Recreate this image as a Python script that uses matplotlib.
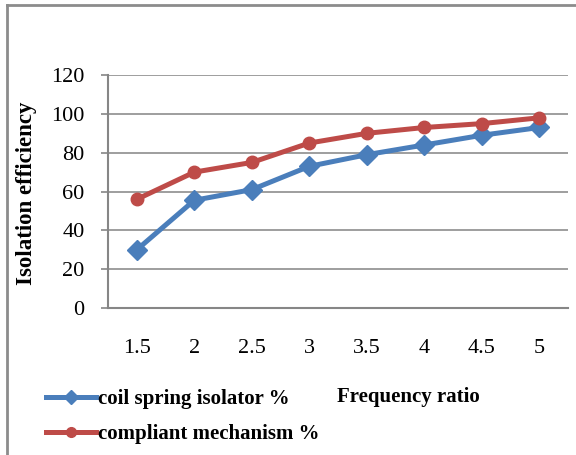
import matplotlib.pyplot as plt
from matplotlib.lines import Line2D

# data
freq_ratio = ['1.5', '2', '2.5', '3', '3.5', '4', '4.5', '5']
coil_spring = [30, 55.5, 61, 73, 79, 84, 89, 93]
compliant = [56, 70, 75, 85, 90, 93, 95, 98]

plt.rcParams['font.family'] = ['Liberation Serif', 'DejaVu Serif']

fig = plt.figure(figsize=(5.76, 4.55), dpi=100)
ax = fig.add_axes([0.1875, 0.323, 0.799, 0.512])

blue = '#4a7ebb'
red = '#be4b48'
x = range(len(freq_ratio))

ax.plot(x, coil_spring, color=blue, lw=3.6, marker='D', markersize=10.5,
        label='coil spring isolator %', zorder=3)
ax.plot(x, compliant, color=red, lw=3.6, marker='o', markersize=9,
        label='compliant mechanism %', zorder=4)

ax.set_xlim(-0.5, len(freq_ratio) - 0.5)
ax.set_ylim(0, 120)
ax.set_yticks(range(0, 121, 20))
ax.set_xticks(list(x))
ax.set_xticklabels(freq_ratio)
ax.tick_params(axis='y', labelsize=16, color='#868686', length=5, width=1.2, pad=12)
ax.tick_params(axis='x', labelsize=16, length=0, pad=22)

ax.grid(axis='y', color='#969696', lw=1.3)
ax.set_axisbelow(True)
for s in ['top', 'right']:
    ax.spines[s].set_visible(False)
for s in ['left', 'bottom']:
    ax.spines[s].set_color('#868686')
    ax.spines[s].set_linewidth(1.5)

fig.text(0.046, 0.575, 'Isolation efficiency', rotation=90, ha='center', va='center',
         fontsize=16.5, fontweight='bold')
fig.text(0.585, 0.127, 'Frequency ratio', ha='left', va='center',
         fontsize=15, fontweight='bold')

handles = [Line2D([], [], color=blue, lw=3.6, marker='D', markersize=7.5),
           Line2D([], [], color=red, lw=3.6, marker='o', markersize=7)]
fig.legend(handles, ['coil spring isolator %', 'compliant mechanism %'],
           loc='upper left', bbox_to_anchor=(0.08, 0.145), frameon=False,
           prop={'size': 15, 'weight': 'bold'}, handlelength=2.4,
           handletextpad=0.1, labelspacing=0.72, borderpad=0, borderaxespad=0)

# outer border of the chart area
fig.add_artist(Line2D([0.012, 0.012], [0, 0.989], color='#8c8c8c', lw=2))
fig.add_artist(Line2D([0.012, 1.0], [0.989, 0.989], color='#8c8c8c', lw=2))

fig.savefig('out.png', dpi=100)
